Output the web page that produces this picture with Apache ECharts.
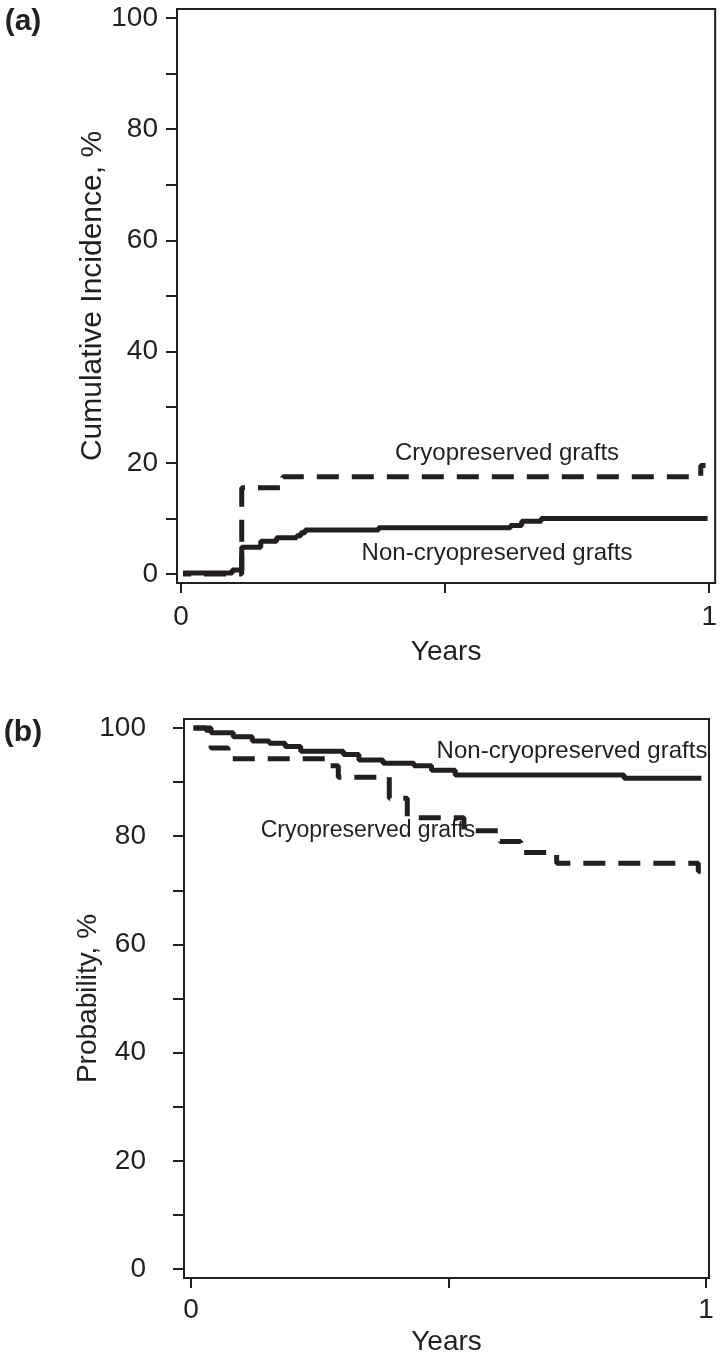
<!DOCTYPE html>
<html>
<head>
<meta charset="utf-8">
<script src="https://cdn.jsdelivr.net/npm/echarts@6/dist/echarts.min.js"></script>
<style>
  html, body { margin: 0; padding: 0; background: #fff; }
  #chart { width: 720px; height: 1362px; }
</style>
</head>
<body>
<div id="chart"></div>
<script>
const FONT = '"Liberation Sans", Arial, Helvetica, sans-serif';
const INK = '#231f20';

// (a) cumulative incidence, %  -> [years, value] where each step starts
const incidenceNonCryo = [
  [0.004, 0.2], [0.097, 0.7], [0.115, 4.8], [0.151, 5.9], [0.181, 6.5],
  [0.219, 6.9], [0.227, 7.4], [0.235, 7.9], [0.374, 8.3], [0.624, 8.7],
  [0.645, 9.5], [0.682, 10.0], [0.997, 10.0]
];
const incidenceCryo = [
  [0.004, 0], [0.115, 15.5], [0.193, 17.5], [0.984, 19.5], [0.993, 19.5]
];

// (b) probability, %
const probNonCryo = [
  [0.005, 100], [0.029, 99.6], [0.039, 99.1], [0.082, 98.4], [0.119, 97.6],
  [0.152, 97.2], [0.183, 96.6], [0.213, 95.7], [0.296, 95.1], [0.326, 94.1],
  [0.373, 93.5], [0.433, 93.0], [0.467, 92.2], [0.513, 91.3], [0.841, 90.7],
  [0.991, 90.7]
];
const probCryo = [
  [0.005, 100], [0.039, 96.3], [0.072, 94.3], [0.263, 93.0], [0.286, 90.9],
  [0.385, 87.0], [0.42, 83.4], [0.53, 81.0], [0.6, 79.0], [0.64, 77.0],
  [0.71, 75.0], [0.985, 73.5], [0.99, 73.5]
];

const yTicks = [0, 10, 20, 30, 40, 50, 60, 70, 80, 90, 100];
const yLabels = [0, 20, 40, 60, 80, 100];
const xTicks = [0, 0.5, 1];
const xLabels = [0, 1];

const chart = echarts.init(document.getElementById('chart'));

function xAxis(gridIndex, min, max, margin, nameGap) {
  return {
    type: 'value', gridIndex, min, max,
    name: 'Years', nameLocation: 'middle', nameGap, nameMoveOverlap: false,
    nameTextStyle: { fontFamily: FONT, fontSize: 28, color: INK },
    axisLine: { show: true, onZero: false, lineStyle: { color: INK, width: 2 } },
    axisTick: { show: true, length: 10, lineStyle: { color: INK, width: 2 }, customValues: xTicks },
    axisLabel: { customValues: xLabels, margin, fontFamily: FONT, fontSize: 28, color: INK },
    splitLine: { show: false }
  };
}

function yAxis(gridIndex, min, max, name, nameSize, margin, nameGap) {
  return {
    type: 'value', gridIndex, min, max,
    name, nameLocation: 'middle', nameRotate: 90, nameGap, nameMoveOverlap: false,
    nameTextStyle: { fontFamily: FONT, fontSize: nameSize, color: INK },
    axisLine: { show: true, onZero: false, lineStyle: { color: INK, width: 2 } },
    axisTick: { show: true, length: 11, lineStyle: { color: INK, width: 2 }, customValues: yTicks },
    axisLabel: { customValues: yLabels, margin, fontFamily: FONT, fontSize: 28, color: INK },
    splitLine: { show: false }
  };
}

function steps(xi, data, dashed, offset) {
  return {
    type: 'line', xAxisIndex: xi, yAxisIndex: xi, data, step: 'end',
    symbol: 'none', silent: true,
    lineStyle: {
      color: INK, width: 5, cap: 'butt',
      type: dashed ? [22, 13] : 'solid', dashOffset: offset || 0
    }
  };
}

function note(text, x, y, size, bold) {
  return {
    type: 'text', x, y, silent: true,
    style: {
      text, fill: INK, align: 'center', verticalAlign: 'middle',
      font: (bold ? 'bold ' : '') + size + 'px ' + FONT
    }
  };
}

chart.setOption({
  animation: false,
  backgroundColor: '#fff',
  grid: [
    { left: 177, top: 9, width: 540, height: 574, show: true, borderColor: INK, borderWidth: 2 },
    { left: 184, top: 719, width: 525, height: 559, show: true, borderColor: INK, borderWidth: 2 }
  ],
  xAxis: [
    xAxis(0, -0.00755, 1.0113, 20, 55),
    xAxis(1, -0.0136, 1.0058, 18, 50)
  ],
  yAxis: [
    yAxis(0, -1.62, 101.62, 'Cumulative Incidence, %', 30, 19, 69),
    yAxis(1, -1.66, 101.66, 'Probability, %', 28, 38, 82)
  ],
  series: [
    steps(0, incidenceCryo, true, 14),
    steps(0, incidenceNonCryo, false),
    steps(1, probCryo, true),
    steps(1, probNonCryo, false)
  ],
  graphic: [
    note('(a)', 23, 22, 30, true),
    note('(b)', 23, 733, 30, true),
    note('Cryopreserved grafts', 507, 453, 24),
    note('Non-cryopreserved grafts', 497, 553, 24),
    note('Non-cryopreserved grafts', 572, 751, 24),
    note('Cryopreserved grafts', 368, 831, 23)
  ]
});
</script>
</body>
</html>
